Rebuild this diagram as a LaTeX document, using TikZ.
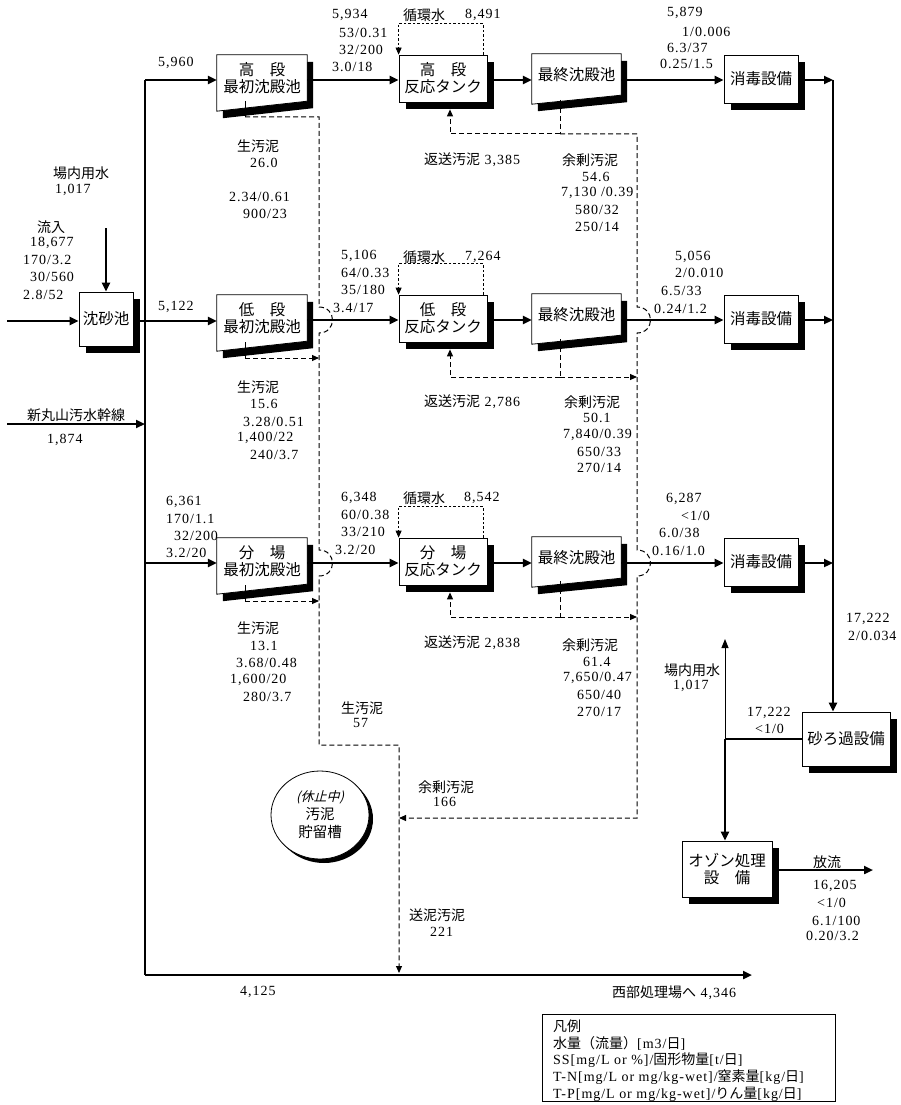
\documentclass[tikz,border=0pt]{standalone}
\usepackage{fontspec}
\setmainfont{Liberation Serif}[LetterSpace=7]
\newfontfamily\jp{Noto Sans CJK JP}
\newfontfamily\jpit[FakeSlant=0.25]{Noto Sans CJK JP}
\usetikzlibrary{arrows.meta,calc,shadows,backgrounds,shapes.geometric}
\newcommand\tlab[3]{\node[lbl] (#1) at (#2) {#3};}
\begin{document}
\begin{tikzpicture}[x=1pt,y=-1pt,
  lbl/.style={anchor=west, inner sep=0pt, font=\fontsize{14}{16}\selectfont},
  boxt/.style={font=\fontsize{15.5}{16.5}\selectfont\jp, align=center, inner sep=0pt},
  rbox/.style={boxt, draw, fill=white, line width=0.8pt,
     drop shadow={shadow xshift=7pt, shadow yshift=-7pt, opacity=1, fill=black}},
  pbox/.style={boxt, minimum width=90pt, minimum height=46pt},
  fbox/.style={boxt, minimum width=89pt, minimum height=41pt},
  flow/.style={line width=2.2pt, -{Triangle[length=9pt,width=8pt]}},
  fline/.style={line width=2.2pt},
  thinflow/.style={line width=1pt, -{Triangle[length=9pt,width=7pt]}},
  sl/.style={line width=1pt, dash pattern=on 5pt off 3pt},
  sla/.style={sl, -{Triangle[length=7pt,width=6pt]}},
  rc/.style={line width=0.8pt, dash pattern=on 2.5pt off 2pt},
  rca/.style={rc, -{Triangle[length=7pt,width=6pt]}},
]
\useasboundingbox (0,0) rectangle (901,1105);
\begin{scope}[on background layer]
\fill[white] (0,0) rectangle (901,1105);
\end{scope}

% ---------- boxes ----------
\node[rbox, minimum width=54pt, minimum height=54pt] (S) at (106,319) {沈砂池};

\node[pbox] (P1) at (262,78) {高　段\\最初沈殿池};
\node[pbox] (P2) at (262,318) {低　段\\最初沈殿池};
\node[pbox] (P3) at (262,561) {分　場\\最初沈殿池};

\node[rbox, minimum width=88pt, minimum height=47pt, font=\fontsize{15.5}{17}\selectfont\jp] (R1) at (443,78.5) {高　段\\反応タンク};
\node[rbox, minimum width=88pt, minimum height=47pt, font=\fontsize{15.5}{17}\selectfont\jp] (R2) at (443,318.5) {低　段\\反応タンク};
\node[rbox, minimum width=88pt, minimum height=47pt, font=\fontsize{15.5}{17}\selectfont\jp] (R3) at (443,561.5) {分　場\\反応タンク};

\node[fbox] (F1) at (576.5,74.5) {最終沈殿池};
\node[fbox] (F2) at (576.5,314.5) {最終沈殿池};
\node[fbox] (F3) at (576.5,557.5) {最終沈殿池};

\node[rbox, minimum width=74pt, minimum height=48pt] (D1) at (761,79) {消毒設備};
\node[rbox, minimum width=74pt, minimum height=48pt] (D2) at (761,319) {消毒設備};
\node[rbox, minimum width=74pt, minimum height=48pt] (D3) at (761,562) {消毒設備};

\node[rbox, minimum width=88pt, minimum height=54pt] (SF) at (846,739) {砂ろ過設備};
\node[rbox, minimum width=90pt, minimum height=56pt, font=\fontsize{15.5}{17}\selectfont\jp] (O) at (727,869) {オゾン処理\\設　備};

\node[draw, fill=white, ellipse, line width=0.8pt, minimum width=98pt, minimum height=88pt,
  drop shadow={shadow xshift=4pt, shadow yshift=-4pt, opacity=1, fill=black},
  align=center, inner sep=0pt, font=\fontsize{14.5}{18}\selectfont\jp] (T) at (320,815)
  {{\jpit\fontsize{13}{18}\selectfont (休止中)}\\汚泥\\貯留槽};

\begin{scope}[on background layer]
\foreach \n in {P1,P2,P3} {
  \fill[black] ($(\n.north west)+(6,7)$) -- ($(\n.north east)+(6,7)$) -- ($(\n.south east)+(6,7)$) -- ($(\n.south west)+(6,17)$) -- cycle;
  \draw[fill=white, line width=0.8pt] (\n.north west) -- (\n.north east) -- (\n.south east) -- ($(\n.south west)+(0,10)$) -- cycle;
}
\foreach \n in {F1,F2,F3} {
  \fill[black] ($(\n.north west)+(6,7)$) -- ($(\n.north east)+(6,7)$) -- ($(\n.south east)+(6,7)$) -- ($(\n.south west)+(6,16)$) -- cycle;
  \draw[fill=white, line width=0.8pt] (\n.north west) -- (\n.north east) -- (\n.south east) -- ($(\n.south west)+(0,9)$) -- cycle;
}
\end{scope}

% ---------- junction coordinates ----------
\coordinate (jb1) at (145,80);
\coordinate (jb2) at (145,321);
\coordinate (jb3) at (145,563);
\coordinate (jbm) at (145,424);
\coordinate (jb4) at (145,975);
\coordinate (west) at (752,975);
\coordinate (in0) at (7,321);
\coordinate (m0) at (7,424);
\coordinate (w0) at (106,228);
\coordinate (jr1) at (833,80);
\coordinate (jr2) at (833,320);
\coordinate (jr3) at (833,563);
\coordinate (jo) at (725,739);
\coordinate (up) at (725,639);
\coordinate (out) at (873,870);

% ---------- main flows ----------
\draw[fline] (jb1) -- (jb4);
\draw[flow] (jb4) -- (west);
\draw[flow] (in0) -- (S.west |- in0);
\draw[flow] (w0) -- (S.north);
\draw[flow] (m0) -- (jbm);
\draw[flow] (jb1) -- (jb1 -| P1.west);
\draw[flow] (S.east |- jb2) -- (jb2 -| P2.west);
\draw[flow] (jb3) -- (jb3 -| P3.west);

\draw[flow] (P1.east |- jb1) -- (R1.west |- jb1);
\draw[flow] (R1.east |- jb1) -- (F1.west |- jb1);
\draw[flow] (F1.east |- jb1) -- (D1.west |- jb1);
\draw[flow] (D1.east |- jb1) -- (jr1);

\draw[flow] (P2.east |- jr2) -- (R2.west |- jr2);
\draw[flow] (R2.east |- jr2) -- (F2.west |- jr2);
\draw[flow] (F2.east |- jr2) -- (D2.west |- jr2);
\draw[flow] (D2.east |- jr2) -- (jr2);

\draw[flow] (P3.east |- jr3) -- (R3.west |- jr3);
\draw[flow] (R3.east |- jr3) -- (F3.west |- jr3);
\draw[flow] (F3.east |- jr3) -- (D3.west |- jr3);
\draw[flow] (D3.east |- jr3) -- (jr3);

\draw[flow] (jr1) -- (jr1 |- SF.north);
\draw[fline] (SF.west |- jo) -- (jo);
\draw[flow] (jo) -- (jo |- O.north);
\draw[thinflow] (jo) -- (up);
\draw[flow] (O.east |- out) -- (out);

% ---------- recirculation ----------
\draw[rca] ($(R1.north east)+(-4,0)$) -- ++(0,-31) -| (R1.north west);
\draw[rca] ($(R2.north east)+(-4,0)$) -- ++(0,-31) -| (R2.north west);
\draw[rca] ($(R3.north east)+(-4,0)$) -- ++(0,-31) -| (R3.north west);

% ---------- raw sludge ----------
\draw[line width=0.8pt] (245,101) -- (245,117);
\draw[line width=0.8pt] (245,342) -- (245,358);
\draw[line width=0.8pt] (245,585) -- (245,601);
\coordinate (bt) at (399,973);
\draw[sla] (245,117) -- (319,117) -- (319,307)
   .. controls (337,307) and (337,333) .. (319,333) -- (319,550)
   .. controls (337,550) and (337,576) .. (319,576) -- (319,745) -- (399,745) -- (bt);
\draw[sla] (245,358) -- (319,358);
\draw[sla] (245,601) -- (319,601);

% ---------- return / excess sludge ----------
\coordinate (ex) at (399,818);
\draw[sl] (560,100) -- (560,134);
\draw[sla] (560,134) -- (450,134) -- ($(R1.south)+(7,7)$ -| 450,0);
\draw[sla] (560,134) -- (637,134) -- (637,307)
   .. controls (655,307) and (655,333) .. (637,333) -- (637,550)
   .. controls (655,550) and (655,576) .. (637,576) -- (637,818) -- (ex);
\draw[sl] (560,339) -- (560,377);
\draw[sla] (560,377) -- (450,377) -- ($(R2.south)+(7,7)$ -| 450,0);
\draw[sla] (560,377) -- (637,377);
\draw[sl] (560,581) -- (560,617);
\draw[sla] (560,617) -- (450,617) -- ($(R3.south)+(7,7)$ -| 450,0);
\draw[sla] (560,617) -- (637,617);

% ---------- labels ----------
\tlab{tw1}{53,173}{\jp 場内用水}
\tlab{tw2}{55,190}{1,017}
\tlab{in1}{37,227}{\jp 流入}
\tlab{in2}{30,243}{18,677}
\tlab{in3}{23,260}{170/3.2}
\tlab{in4}{30,277}{30/560}
\tlab{in5}{23,295}{2.8/52}
\tlab{nm1}{27,415}{\jp 新丸山汚水幹線}
\tlab{nm2}{47,440}{1,874}
\tlab{a1}{158,63}{5,960}
\tlab{a2}{158,307}{5,122}
\tlab{a3}{166,502}{6,361}
\tlab{a4}{166,519}{170/1.1}
\tlab{a5}{174,536}{32/200}
\tlab{a6}{166,553}{3.2/20}

\tlab{s11}{237,146}{\jp 生汚泥}
\tlab{s12}{250,163}{26.0}
\tlab{s13}{229,197}{2.34/0.61}
\tlab{s14}{243,214}{900/23}
\tlab{s21}{237,387}{\jp 生汚泥}
\tlab{s22}{250,404}{15.6}
\tlab{s23}{243,422}{3.28/0.51}
\tlab{s24}{237,438}{1,400/22}
\tlab{s25}{250,455}{240/3.7}
\tlab{s31}{237,628}{\jp 生汚泥}
\tlab{s32}{250,646}{13.1}
\tlab{s33}{236,663}{3.68/0.48}
\tlab{s34}{230,680}{1,600/20}
\tlab{s35}{243,697}{280/3.7}

\tlab{b11}{332,15}{5,934}
\tlab{b12}{339,33}{53/0.31}
\tlab{b13}{339,50}{32/200}
\tlab{b14}{332,67}{3.0/18}
\tlab{b21}{341,256}{5,106}
\tlab{b22}{341,273}{64/0.33}
\tlab{b23}{341,290}{35/180}
\tlab{b24}{333,308}{3.4/17}
\tlab{b31}{341,498}{6,348}
\tlab{b32}{341,515}{60/0.38}
\tlab{b33}{341,532}{33/210}
\tlab{b34}{335,550}{3.2/20}

\tlab{c11}{403,15}{\jp 循環水}
\tlab{c12}{465,15}{8,491}
\tlab{c21}{403,257}{\jp 循環水}
\tlab{c22}{465,257}{7,264}
\tlab{c31}{403,498}{\jp 循環水}
\tlab{c32}{464,498}{8,542}

\tlab{r1}{424,160}{{\jp 返送汚泥} 3,385}
\tlab{r2}{424,402}{{\jp 返送汚泥} 2,786}
\tlab{r3}{424,643}{{\jp 返送汚泥} 2,838}

\tlab{e11}{562,160}{\jp 余剰汚泥}
\tlab{e12}{582,177}{54.6}
\tlab{e13}{561,193}{7,130 /0.39}
\tlab{e14}{575,210}{580/32}
\tlab{e15}{575,227}{250/14}
\tlab{e21}{564,402}{\jp 余剰汚泥}
\tlab{e22}{583,418}{50.1}
\tlab{e23}{563,435}{7,840/0.39}
\tlab{e24}{577,452}{650/33}
\tlab{e25}{577,468}{270/14}
\tlab{e31}{562,645}{\jp 余剰汚泥}
\tlab{e32}{583,662}{61.4}
\tlab{e33}{563,678}{7,650/0.47}
\tlab{e34}{577,695}{650/40}
\tlab{e35}{577,712}{270/17}

\tlab{d11}{667,13}{5,879}
\tlab{d12}{682,32}{1/0.006}
\tlab{d13}{667,48}{6.3/37}
\tlab{d14}{660,64}{0.25/1.5}
\tlab{d21}{675,257}{5,056}
\tlab{d22}{675,273}{2/0.010}
\tlab{d23}{661,291}{6.5/33}
\tlab{d24}{654,309}{0.24/1.2}
\tlab{d31}{666,499}{6,287}
\tlab{d32}{681,516}{<1/0}
\tlab{d33}{659,533}{6.0/38}
\tlab{d34}{652,551}{0.16/1.0}

\tlab{f1}{846,619}{17,222}
\tlab{f2}{848,636}{2/0.034}
\tlab{f3}{664,670}{\jp 場内用水}
\tlab{f4}{673,686}{1,017}
\tlab{f5}{747,713}{17,222}
\tlab{f6}{755,729}{<1/0}
\tlab{o1}{813,862}{\jp 放流}
\tlab{o2}{813,886}{16,205}
\tlab{o3}{817,903}{<1/0}
\tlab{o4}{812,921}{6.1/100}
\tlab{o5}{806,936}{0.20/3.2}

\tlab{g1}{341,708}{\jp 生汚泥}
\tlab{g2}{353,723}{57}
\tlab{g3}{418,787}{\jp 余剰汚泥}
\tlab{g4}{433,802}{166}
\tlab{g5}{409,915}{\jp 送泥汚泥}
\tlab{g6}{430,932}{221}
\tlab{g7}{240,992}{4,125}
\tlab{g8}{612,993}{{\jp 西部処理場へ} 4,346}

% ---------- legend ----------
\node[draw, line width=0.8pt, anchor=north west, minimum width=293pt, minimum height=87pt, inner sep=0pt] (leg) at (542,1014) {};
\begin{scope}[lbl/.append style={font=\fontsize{14}{16}\selectfont}]
\tlab{l1}{553,1026}{\jp 凡例}
\tlab{l2}{553,1043}{{\jp 水量（流量）}[m3/{\jp 日}]}
\tlab{l3}{553,1060}{SS[mg/L or \%]/{\jp 固形物量}[t/{\jp 日}]}
\tlab{l4}{553,1077}{T-N[mg/L or mg/kg-wet]/{\jp 窒素量}[kg/{\jp 日}]}
\tlab{l5}{553,1094}{T-P[mg/L or mg/kg-wet]/{\jp りん量}[kg/{\jp 日}]}
\end{scope}
\end{tikzpicture}
\end{document}
